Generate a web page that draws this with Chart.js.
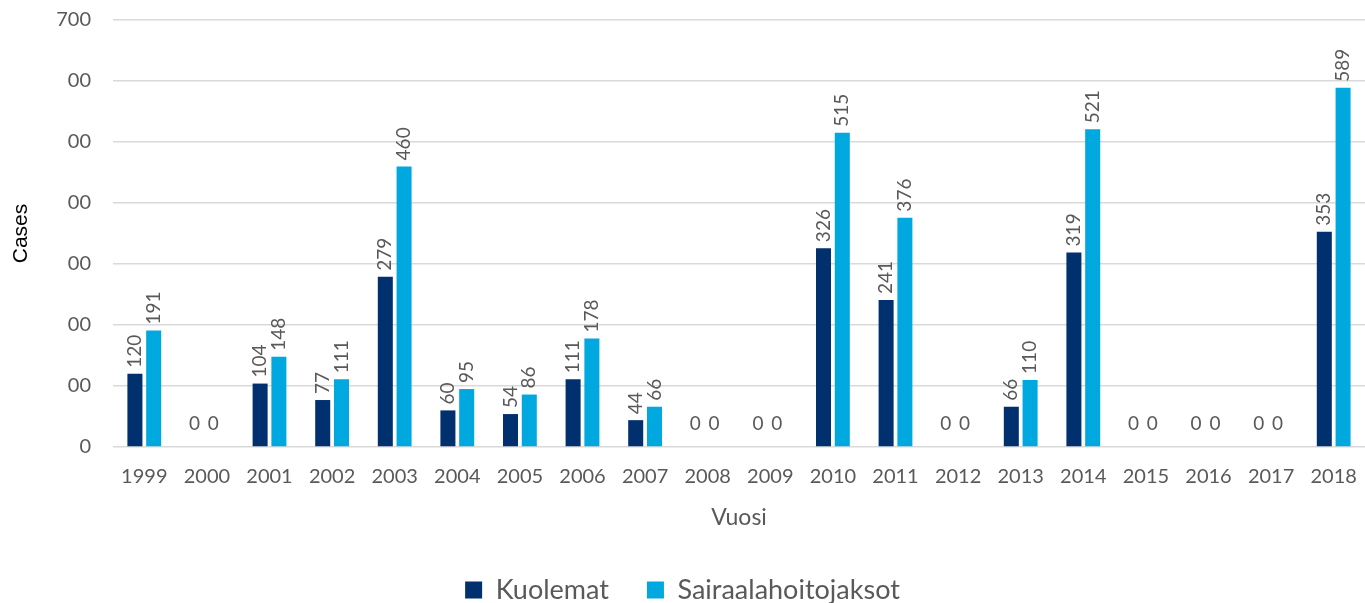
<!DOCTYPE html>
<html>
<head>
<meta charset="utf-8">
<script src="https://cdn.jsdelivr.net/npm/chart.js@4/dist/chart.umd.min.js"></script>
<style>
  html, body { margin: 0; padding: 0; background: #fff; }
  #wrap { width: 1365px; height: 603px; }
</style>
</head>
<body>
<div id="wrap"><canvas id="myChart" width="1365" height="603"></canvas></div>
<script>
// values
var years = ['1999','2000','2001','2002','2003','2004','2005','2006','2007','2008',
             '2009','2010','2011','2012','2013','2014','2015','2016','2017','2018'];
var kuolemat = [120, 0, 104, 77, 279, 60, 54, 111, 44, 0, 0, 326, 241, 0, 66, 319, 0, 0, 0, 353];
var sairaala = [191, 0, 148, 111, 460, 95, 86, 178, 66, 0, 0, 515, 376, 0, 110, 521, 0, 0, 0, 589];
var yTickLabels = ['0', '00', '00', '00', '00', '00', '00', '700'];

var GREY = '#595959';
Chart.defaults.font.family = 'Lato';

// value labels: rotated above the bar, flat "0" for empty bars
var barLabels = {
	id: 'barLabels',
	afterDatasetsDraw: function(chart) {
		var ctx = chart.ctx;
		ctx.save();
		ctx.fillStyle = GREY;
		ctx.font = '19px Lato';
		chart.data.datasets.forEach(function(ds, di) {
			var meta = chart.getDatasetMeta(di);
			meta.data.forEach(function(el, i) {
				var v = ds.data[i];
				if (v === 0) {
					ctx.textAlign = 'center';
					ctx.textBaseline = 'bottom';
					ctx.fillText('0', el.x - 3, el.y - 14);
				} else {
					ctx.save();
					ctx.translate(el.x, el.y - 6);
					ctx.rotate(-Math.PI / 2);
					ctx.textAlign = 'left';
					ctx.textBaseline = 'middle';
					ctx.fillText(String(v), 0, 0);
					ctx.restore();
				}
			});
		});
		ctx.restore();
	}
};

var ctx = document.getElementById('myChart');
var myChart = new Chart(ctx, {
	type: 'bar',
	data: {
		labels: years,
		datasets: [
			{ label: 'Kuolemat', data: kuolemat, backgroundColor: '#00306e',
			  barPercentage: 0.8, categoryPercentage: 0.6 },
			{ label: 'Sairaalahoitojaksot', data: sairaala, backgroundColor: '#00a8e0',
			  barPercentage: 0.8, categoryPercentage: 0.6 }
		]
	},
	options: {
		responsive: false,
		animation: false,
		layout: { padding: { top: 20, right: 0, bottom: -10.5, left: 0 } },
		plugins: {
			tooltip: { enabled: false },
			legend: {
				position: 'bottom',
				labels: {
					color: GREY,
					font: { size: 27 },
					boxWidth: 17,
					boxHeight: 17,
					padding: 38
				}
			}
		},
		scales: {
			x: {
				grid: { display: false, drawTicks: false },
				border: { display: false },
				ticks: { color: GREY, font: { size: 20 }, padding: 18, maxRotation: 0 },
				title: { display: true, text: 'Vuosi', color: GREY, font: { size: 23 },
				         padding: { top: 0, bottom: 7 } },
				afterFit: function(scale) {
					scale.height = 91.5;
					scale.paddingLeft = 0;
					scale.paddingRight = 0;
				}
			},
			y: {
				min: 0,
				max: 700,
				grid: { color: '#d9d9d9', lineWidth: 1.5, drawTicks: false },
				border: { display: false },
				ticks: {
					stepSize: 100,
					color: GREY,
					font: { size: 20 },
					padding: 22,
					callback: function(v, i) { return yTickLabels[i]; }
				},
				title: { display: true, text: 'Cases', color: '#000',
				         font: { family: 'Liberation Sans', size: 21 },
				         padding: { top: 9, bottom: 0 } },
				afterFit: function(scale) {
					scale.width = 113;
					scale.paddingTop = 0;
					scale.paddingBottom = 0;
				}
			}
		}
	},
	plugins: [barLabels]
});
</script>
</body>
</html>
